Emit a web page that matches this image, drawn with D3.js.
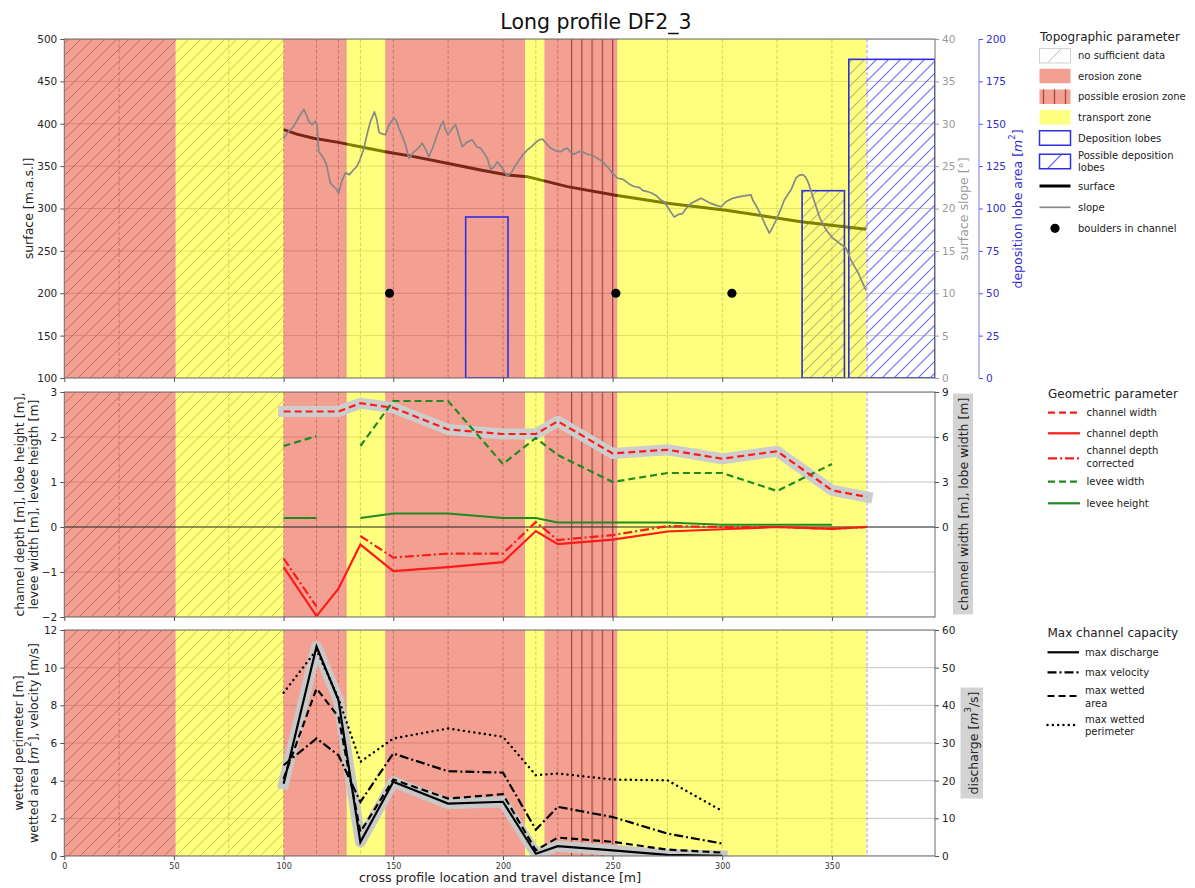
<!DOCTYPE html>
<html>
<head>
<meta charset="utf-8">
<script src="https://cdn.jsdelivr.net/npm/d3@7"></script>
<style>
  body { margin: 0; background: #fff; }
  svg { display: block; font-family: "DejaVu Sans", sans-serif; }
</style>
</head>
<body>
<svg id="chart" width="1195" height="888"></svg>
<script>
// ---------------- data ----------------
// cross-profile locations (vertical reference lines)
const profileLines = [25, 75, 100, 115, 125, 135, 150, 175, 200, 215, 225, 250, 275, 300, 325, 350, 366];

// process zones along the travel distance [m]
const zoneStart = [0, 50.8, 100, 128.8, 146.3, 210.1, 218.9, 252.2];
const zoneEnd   = [50.8, 100, 128.8, 146.3, 210.1, 218.9, 252.2, 365.5];
const zoneKind  = ["erosion", "transport", "erosion", "transport", "erosion", "transport", "erosion", "transport"];
const noDataRange = [0, 100];
const possibleErosionRange = [228, 252.2];

// deposition lobes
const lobeStart    = [183, 336.4, 357.7];
const lobeEnd      = [202.3, 355.7, 397];
const lobeArea     = [95, 110.5, 188];
const lobePossible = [false, true, true];

// boulders in channel
const boulderX = [148.3, 251.5, 304.4];
const boulderY = [200, 200, 200];

// surface elevation [m a.s.l.]
const surfaceX = [100, 106, 113.7, 125, 136.5, 146.4, 159.4, 174.6, 189.8, 202, 211, 229.4, 250.7, 275, 301.7, 335.9, 365.6];
const surfaceZ = [393, 387.7, 383, 378, 372, 367, 361.2, 353.4, 345.5, 339.6, 337.6, 325.8, 315.9, 306.1, 298, 284.4, 275.5];

// surface slope [deg]
const slopeX = [100, 102, 104.6, 107, 109.2, 110.5, 111.4, 113, 114.5, 115.3, 116, 117, 118.3, 119.5, 120.5, 121.3, 122.8, 124, 125.1, 126.5,
  128.2, 130, 132, 133.5, 135, 136.5, 138, 139.5, 141.4, 142.5, 143.5, 145, 146.4, 148, 150.2, 151.3, 152.5, 154, 155.6, 157.1,
  158.3, 159.4, 161, 163.2, 164.7, 166.2, 168, 170, 171.5, 172.8, 173.8, 175, 176.7, 178.4, 180, 181.5, 183.5, 186, 188, 189.8,
  191.5, 192.9, 194.4, 195.9, 197.4, 198.5, 200, 202, 204, 205.5, 207.3, 209, 211.1, 213, 215, 216.5, 218, 220, 221.8, 224,
  226.3, 228, 229.4, 231, 232.4, 234.5, 236.3, 238.5, 240.8, 242.5, 244.6, 246.3, 247.7, 249.5, 252.2, 255, 257.5, 259.8, 262, 264,
  265.9, 268, 270, 272, 273.5, 275, 276.5, 278.1, 280, 281.9, 283.5, 285.7, 288, 290.3, 292.5, 294.8, 297, 299.4, 301.7, 304.7,
  307.8, 310, 313.1, 313.9, 315.5, 316.9, 318, 319.2, 320.3, 321.5, 323, 324.5, 326.5, 328.3, 330, 331.4, 332.5, 333.6, 335, 336.7,
  338, 339, 340.2, 341.3, 342.8, 344.3, 345.8, 347.3, 348.8, 350.4, 352, 353.4, 355, 356.5, 357.6, 358.7, 360.2, 361.8, 363.7, 365.6];
const slopeDeg = [28.3, 29.0, 29.7, 30.8, 31.7, 31.0, 30.3, 29.9, 30.3, 29.8, 26.7, 26.4, 25.9, 25.2, 24.0, 23.0, 22.6, 22.3, 21.8, 23.2,
  24.2, 24.0, 24.6, 25.0, 25.9, 27.0, 28.7, 30.2, 31.4, 30.5, 29.0, 28.8, 28.7, 29.8, 30.7, 30.4, 29.5, 28.6, 27.5, 25.9,
  26.3, 26.7, 27.0, 27.7, 27.0, 26.1, 27.2, 28.7, 29.7, 30.3, 29.3, 28.7, 29.4, 29.9, 28.5, 27.3, 27.8, 28.1, 27.3, 27.1,
  26.5, 25.9, 24.6, 24.9, 25.5, 25.2, 24.6, 23.8, 24.3, 25.0, 25.7, 26.3, 26.9, 27.3, 27.8, 28.1, 28.2, 27.6, 27.1, 26.8,
  26.7, 27.0, 27.1, 26.6, 26.4, 26.7, 26.7, 26.4, 26.3, 26.0, 25.7, 25.3, 24.9, 24.3, 23.6, 23.4, 22.9, 22.6, 22.5, 22.1,
  22.0, 21.8, 21.5, 21.0, 20.8, 20.2, 19.6, 19.0, 19.3, 19.4, 20.0, 20.6, 20.9, 21.2, 20.9, 20.6, 20.4, 20.2, 20.8, 21.2,
  21.4, 21.5, 21.6, 21.0, 20.3, 19.6, 19.0, 18.3, 17.7, 17.1, 17.8, 18.6, 19.8, 21.0, 21.7, 22.2, 22.9, 23.6, 23.9, 24.0,
  23.7, 23.2, 22.3, 21.4, 20.2, 19.0, 18.2, 17.5, 17.0, 16.5, 16.2, 15.9, 15.6, 15.3, 14.6, 13.9, 13.2, 12.5, 11.4, 10.3];

// geometric parameters per cross profile
const geoX            = [100, 115, 125, 135, 150, 175, 200, 215, 225, 250, 275, 300, 325, 350, 366];
const channelWidth    = [7.7, 7.7, 7.7, 8.25, 7.95, 6.5, 6.2, 6.2, 7.05, 4.9, 5.15, 4.55, 5.05, 2.45, 2.0];
const channelDepth    = [-0.89, -1.98, -1.37, -0.39, -0.98, -0.89, -0.78, -0.09, -0.38, -0.28, -0.10, -0.05, 0.0, -0.04, 0.0];
const channelDepthCor = [-0.70, -1.77, null, -0.20, -0.68, -0.59, -0.59, 0.11, -0.29, -0.18, 0.02, 0.0, 0.0, -0.04, 0.0];
const leveeWidth      = [1.8, 2.02, null, 1.8, 2.8, 2.8, 1.4, 1.98, 1.6, 1.0, 1.2, 1.2, 0.8, 1.4, null];
const leveeHeight     = [0.2, 0.2, null, 0.2, 0.3, 0.3, 0.2, 0.2, 0.1, 0.1, 0.1, 0.05, 0.05, 0.05, null];

// max channel capacity per cross profile
const capX            = [100, 115, 125, 135, 150, 175, 200, 215, 225, 250, 275, 300];
const maxDischarge    = [19.2, 55.6, 41.4, 3.7, 19.7, 13.9, 14.4, 0.6, 2.6, 1.5, 0.3, 0.05];
const maxVelocity     = [4.82, 6.24, 5.35, 2.87, 5.44, 4.5, 4.43, 1.4, 2.61, 2.07, 1.19, 0.66];
const maxWettedArea   = [4.1, 8.9, 7.39, 1.28, 4.06, 3.05, 3.28, 0.3, 0.98, 0.75, 0.34, 0.18];
const maxWettedPerim  = [8.67, 10.94, 8.37, 5.0, 6.24, 6.77, 6.33, 4.29, 4.38, 4.06, 4.02, 2.39];

// ticks
const xTicks      = [0, 50, 100, 150, 200, 250, 300, 350];
const surfTicks   = [100, 150, 200, 250, 300, 350, 400, 450, 500];
const slopeTicks  = [0, 5, 10, 15, 20, 25, 30, 35, 40];
const lobeTicks   = [0, 25, 50, 75, 100, 125, 150, 175, 200];
const depthTicks  = [-2, -1, 0, 1, 2, 3];
const widthTicks  = [0, 3, 6, 9];
const capTicks    = [0, 2, 4, 6, 8, 10, 12];
const qTicks      = [0, 10, 20, 30, 40, 50, 60];

// ---------------- layout & scales ----------------
const svg = d3.select("#chart");
const X0 = 64.3, X1 = 935;
const P = { top: [39, 378], mid: [392, 617], bot: [630, 856] };

const x = d3.scaleLinear().domain([0, 397]).range([X0, X1]);
const ySurf  = d3.scaleLinear().domain([100, 500]).range([P.top[1], P.top[0]]);
const ySlope = d3.scaleLinear().domain([0, 40]).range([P.top[1], P.top[0]]);
const yLobe  = d3.scaleLinear().domain([0, 200]).range([P.top[1], P.top[0]]);
const yDepth = d3.scaleLinear().domain([-2, 3]).range([P.mid[1], P.mid[0]]);
const yWidth = d3.scaleLinear().domain([-6, 9]).range([P.mid[1], P.mid[0]]);
const yCap   = d3.scaleLinear().domain([0, 12]).range([P.bot[1], P.bot[0]]);
const yQ     = d3.scaleLinear().domain([0, 60]).range([P.bot[1], P.bot[0]]);

const EROSION = "rgb(232,72,48)", EROSION_OP = 0.52;
const TRANSPORT = "#ffff00", TRANSPORT_OP = 0.5;
const LOBE_BLUE = "#2f2fe0";
const LOBE_HATCH = "#7070ff";

// ---------------- patterns ----------------
const defs = svg.append("defs");
function diagPattern(id, color, width) {
  const p = defs.append("pattern").attr("id", id).attr("patternUnits", "userSpaceOnUse")
    .attr("width", 12).attr("height", 12);
  p.append("path").attr("d", "M-3,3 L3,-3 M0,12 L12,0 M9,15 L15,9")
    .attr("stroke", color).attr("stroke-width", width).attr("fill", "none");
}
diagPattern("hatchNoData", "#9a9a9a", 1);
diagPattern("hatchLobe", LOBE_HATCH, 1.2);
const vp = defs.append("pattern").attr("id", "hatchPossErosion").attr("patternUnits", "userSpaceOnUse")
  .attr("x", 571).attr("y", 0).attr("width", 10.25).attr("height", 10);
vp.append("path").attr("d", "M0.6,-1 L0.6,11").attr("stroke", "#4a4a4a").attr("stroke-width", 1.2);

Object.entries(P).forEach(([k, r]) => {
  defs.append("clipPath").attr("id", "clip-" + k)
    .append("rect").attr("x", X0).attr("y", r[0]).attr("width", X1 - X0).attr("height", r[1] - r[0]);
});

// ---------------- panel background (grid, zones, hatches) ----------------
function panelBackground(key, gridScale, gridTicks, under) {
  const [y0, y1] = P[key];
  const g = svg.append("g").attr("clip-path", `url(#clip-${key})`);
  g.append("rect").attr("x", X0).attr("y", y0).attr("width", X1 - X0).attr("height", y1 - y0).attr("fill", "#fff");
  // horizontal grid
  g.selectAll("line.hgrid").data(gridTicks).join("line").attr("class", "hgrid")
    .attr("x1", X0).attr("x2", X1).attr("y1", d => gridScale(d)).attr("y2", d => gridScale(d))
    .attr("stroke", "#c4c4c4").attr("stroke-width", 1);
  // cross profile lines
  g.selectAll("line.vgrid").data(profileLines).join("line").attr("class", "vgrid")
    .attr("x1", d => x(d)).attr("x2", d => x(d)).attr("y1", y0).attr("y2", y1)
    .attr("stroke", "#9a9a9a").attr("stroke-width", 0.9).attr("stroke-dasharray", "3.5,2");
  // no sufficient data hatch
  g.append("rect").attr("x", x(noDataRange[0])).attr("y", y0)
    .attr("width", x(noDataRange[1]) - x(noDataRange[0])).attr("height", y1 - y0)
    .attr("fill", "url(#hatchNoData)");
  // possible erosion zone lines
  g.append("rect").attr("x", x(possibleErosionRange[0])).attr("y", y0)
    .attr("width", x(possibleErosionRange[1]) - x(possibleErosionRange[0])).attr("height", y1 - y0)
    .attr("fill", "url(#hatchPossErosion)");
  if (under) under(g);
  // process zones
  g.selectAll("rect.zone").data(zoneStart.map((s, i) => ({ s, e: zoneEnd[i], k: zoneKind[i] })))
    .join("rect").attr("class", "zone")
    .attr("x", d => x(d.s)).attr("width", d => x(d.e) - x(d.s)).attr("y", y0).attr("height", y1 - y0)
    .attr("fill", d => d.k === "erosion" ? EROSION : TRANSPORT)
    .attr("fill-opacity", d => d.k === "erosion" ? EROSION_OP : TRANSPORT_OP);
  return g;
}

const lobes = lobeStart.map((s, i) => ({ s, e: lobeEnd[i], a: lobeArea[i], p: lobePossible[i] }));

// ---------------- top panel ----------------
const gTop = panelBackground("top", ySurf, surfTicks, g => {
  g.selectAll("rect.lobeHatch").data(lobes.filter(d => d.p)).join("rect").attr("class", "lobeHatch")
    .attr("x", d => x(d.s)).attr("width", d => x(d.e) - x(d.s))
    .attr("y", d => yLobe(d.a)).attr("height", d => yLobe(0) - yLobe(d.a))
    .attr("fill", "url(#hatchLobe)");
  g.append("path").datum(surfaceX.map((v, i) => [v, surfaceZ[i]]))
    .attr("d", d3.line().x(d => x(d[0])).y(d => ySurf(d[1])))
    .attr("fill", "none").attr("stroke", "#000").attr("stroke-width", 3);
});
gTop.selectAll("rect.lobe").data(lobes).join("rect").attr("class", "lobe")
  .attr("x", d => x(d.s)).attr("width", d => x(d.e) - x(d.s))
  .attr("y", d => yLobe(d.a)).attr("height", d => yLobe(0) - yLobe(d.a))
  .attr("fill", "none").attr("stroke", LOBE_BLUE).attr("stroke-width", 1.6);
gTop.append("path").datum(slopeX.map((v, i) => [v, slopeDeg[i]]))
  .attr("d", d3.line().x(d => x(d[0])).y(d => ySlope(d[1])))
  .attr("fill", "none").attr("stroke", "#878787").attr("stroke-width", 1.7).attr("stroke-linejoin", "round");
gTop.selectAll("circle.boulder").data(boulderX.map((v, i) => [v, boulderY[i]])).join("circle")
  .attr("class", "boulder").attr("cx", d => x(d[0])).attr("cy", d => ySurf(d[1])).attr("r", 4.6).attr("fill", "#000");

// ---------------- middle panel ----------------
const gMid = panelBackground("mid", yDepth, depthTicks);
gMid.append("line").attr("x1", X0).attr("x2", X1).attr("y1", yDepth(0)).attr("y2", yDepth(0))
  .attr("stroke", "#333").attr("stroke-width", 1);
function series(g, xs, ys, yScale, style) {
  const line = d3.line().defined(d => d[1] != null).x(d => x(d[0])).y(d => yScale(d[1]));
  const p = g.append("path").datum(xs.map((v, i) => [v, ys[i]])).attr("d", line).attr("fill", "none");
  Object.entries(style).forEach(([k, v]) => p.attr(k, v));
  return p;
}
series(gMid, geoX, channelWidth, yWidth, { stroke: "#cdcdcd", "stroke-width": 11, "stroke-linecap": "square", "stroke-linejoin": "round" });
series(gMid, geoX, leveeWidth, yDepth, { stroke: "#1f8a1f", "stroke-width": 2.2, "stroke-dasharray": "7,4" });
series(gMid, geoX, leveeHeight, yDepth, { stroke: "#1f8a1f", "stroke-width": 2.2 });
series(gMid, geoX, channelDepth, yDepth, { stroke: "#ff1a1a", "stroke-width": 2.2 });
series(gMid, geoX, channelDepthCor, yDepth, { stroke: "#ff1a1a", "stroke-width": 2.2, "stroke-dasharray": "9,3,2,3" });
series(gMid, geoX, channelWidth, yWidth, { stroke: "#ff1a1a", "stroke-width": 2.2, "stroke-dasharray": "7,4" });

// ---------------- bottom panel ----------------
const gBot = panelBackground("bot", yCap, capTicks);
series(gBot, capX, maxDischarge, yQ, { stroke: "#c8c8c8", "stroke-width": 11, "stroke-linecap": "square", "stroke-linejoin": "round" });
series(gBot, capX, maxWettedPerim, yCap, { stroke: "#000", "stroke-width": 2.4, "stroke-dasharray": "0.1,5.2", "stroke-linecap": "round" });
series(gBot, capX, maxVelocity, yCap, { stroke: "#000", "stroke-width": 2.2, "stroke-dasharray": "9,3,2,3" });
series(gBot, capX, maxWettedArea, yCap, { stroke: "#000", "stroke-width": 2.2, "stroke-dasharray": "7,4" });
series(gBot, capX, maxDischarge, yQ, { stroke: "#000", "stroke-width": 2.2 });

// ---------------- frames & axes ----------------
Object.values(P).forEach(r => {
  svg.append("rect").attr("x", X0).attr("y", r[0]).attr("width", X1 - X0).attr("height", r[1] - r[0])
    .attr("fill", "none").attr("stroke", "#6a6a6a").attr("stroke-width", 1);
});

function styleAxis(g, textColor, tickColor, size) {
  g.attr("font-family", "DejaVu Sans").attr("font-size", size || 10.5);
  g.select(".domain").remove();
  g.selectAll(".tick text").attr("fill", textColor);
  g.selectAll(".tick line").attr("stroke", tickColor);
  return g;
}
const fmt = d3.format("d");
// x axes
[["top", false], ["mid", false], ["bot", true]].forEach(([k, labels]) => {
  const ax = d3.axisBottom(x).tickValues(xTicks).tickSize(4).tickPadding(3).tickFormat(labels ? fmt : () => "");
  styleAxis(svg.append("g").attr("transform", `translate(0,${P[k][1]})`).call(ax), "#333", "#555", 8);
});
// left axes
styleAxis(svg.append("g").attr("transform", `translate(${X0},0)`)
  .call(d3.axisLeft(ySurf).tickValues(surfTicks).tickSize(4).tickPadding(3).tickFormat(fmt)), "#262626", "#555");
styleAxis(svg.append("g").attr("transform", `translate(${X0},0)`)
  .call(d3.axisLeft(yDepth).tickValues(depthTicks).tickSize(4).tickPadding(3).tickFormat(fmt)), "#262626", "#555");
styleAxis(svg.append("g").attr("transform", `translate(${X0},0)`)
  .call(d3.axisLeft(yCap).tickValues(capTicks).tickSize(4).tickPadding(3).tickFormat(fmt)), "#262626", "#555");
// right axes
styleAxis(svg.append("g").attr("transform", `translate(${X1},0)`)
  .call(d3.axisRight(ySlope).tickValues(slopeTicks).tickSize(4).tickPadding(3).tickFormat(fmt)), "#9a9a9a", "#9a9a9a");
const XL = 979;
svg.append("line").attr("x1", XL).attr("x2", XL).attr("y1", P.top[0]).attr("y2", P.top[1])
  .attr("stroke", "#9090ea").attr("stroke-width", 1.2);
styleAxis(svg.append("g").attr("transform", `translate(${XL},0)`)
  .call(d3.axisRight(yLobe).tickValues(lobeTicks).tickSize(4).tickPadding(3).tickFormat(fmt)), "#3232c8", "#5a5ad8");
styleAxis(svg.append("g").attr("transform", `translate(${X1},0)`)
  .call(d3.axisRight(yWidth).tickValues(widthTicks).tickSize(4).tickPadding(3).tickFormat(fmt)), "#262626", "#555");
styleAxis(svg.append("g").attr("transform", `translate(${X1},0)`)
  .call(d3.axisRight(yQ).tickValues(qTicks).tickSize(4).tickPadding(3).tickFormat(fmt)), "#262626", "#555");

// ---------------- titles & axis labels ----------------
svg.append("text").attr("x", 596).attr("y", 29).attr("text-anchor", "middle")
  .attr("font-size", 20.5).attr("fill", "#111").text("Long profile DF2_3");
svg.append("text").attr("x", 500).attr("y", 882).attr("text-anchor", "middle")
  .attr("font-size", 12.6).attr("fill", "#222").text("cross profile location and travel distance [m]");

// rotated label; parts = array of [text, style] pieces
function vLabel(cx, cy, parts, color, box) {
  const g = svg.append("g").attr("transform", `translate(${cx},${cy}) rotate(-90)`);
  const t = g.append("text").attr("text-anchor", "middle").attr("dominant-baseline", "central")
    .attr("font-size", 12.5).attr("fill", color);
  parts.forEach(p => {
    const s = t.append("tspan").text(p[0]);
    if (p[1] === "i") s.attr("font-style", "italic");
    if (p[1] === "sup") s.attr("font-size", 8.5).attr("baseline-shift", "super");
  });
  if (box) {
    const b = t.node().getBBox();
    g.insert("rect", "text").attr("x", b.x - 4).attr("y", b.y - 2.5)
      .attr("width", b.width + 8).attr("height", b.height + 5).attr("fill", "#d3d3d3");
  }
}
vLabel(27.5, 208.5, [["surface [m.a.s.l]"]], "#222");
vLabel(19, 504.5, [["channel depth [m], lobe height [m],"]], "#222");
vLabel(33, 504.5, [["levee width [m], levee heigth [m]"]], "#222");
vLabel(17.5, 743, [["wetted perimeter [m]"]], "#222");
vLabel(33, 743, [["wetted area ["], ["m", "i"], ["2", "sup"], ["], velocity [m/s]"]], "#222");
vLabel(963, 209, [["surface slope [°]"]], "#9a9a9a");
vLabel(1017, 209, [["deposition lobe area ["], ["m", "i"], ["2", "sup"], ["]"]], "#2a2ad0");
vLabel(963, 504, [["channel width [m], lobe width [m]"]], "#222", true);
vLabel(973, 743, [["discharge ["], ["m", "i"], ["3", "sup"], ["/s]"]], "#222", true);

// ---------------- legends ----------------
function legendTitle(xp, yp, txt) {
  svg.append("text").attr("x", xp).attr("y", yp).attr("dominant-baseline", "central")
    .attr("font-size", 12).attr("fill", "#222").text(txt);
}
function legendText(xp, yp, lines) {
  const t = svg.append("text").attr("font-size", 10).attr("fill", "#222");
  const lh = 12.5;
  lines.forEach((l, i) => {
    t.append("tspan").attr("x", xp).attr("y", yp + (i - (lines.length - 1) / 2) * lh)
      .attr("dominant-baseline", "central").text(l);
  });
}

// topographic parameter legend
const LX = 1039.5, LW = 31, LH = 14.5, LT = 1078;
legendTitle(1040, 36.5, "Topographic parameter");
const topLegend = [
  { y: 55.7, lines: ["no sufficient data"], draw: (g, y) => {
      g.append("rect").attr("x", LX).attr("y", y - LH / 2).attr("width", LW).attr("height", LH).attr("fill", "#fff");
      g.append("line").attr("x1", LX + 8).attr("y1", y + LH / 2).attr("x2", LX + 22).attr("y2", y - LH / 2)
        .attr("stroke", "#b5b5b5").attr("stroke-width", 0.9);
      g.append("rect").attr("x", LX).attr("y", y - LH / 2).attr("width", LW).attr("height", LH).attr("fill", "none").attr("stroke", "#cfcfcf");
    } },
  { y: 76, lines: ["erosion zone"], draw: (g, y) => {
      g.append("rect").attr("x", LX).attr("y", y - LH / 2).attr("width", LW).attr("height", LH).attr("fill", EROSION).attr("fill-opacity", EROSION_OP);
    } },
  { y: 96.7, lines: ["possible erosion zone"], draw: (g, y) => {
      g.append("rect").attr("x", LX).attr("y", y - LH / 2).attr("width", LW).attr("height", LH).attr("fill", EROSION).attr("fill-opacity", EROSION_OP);
      [4, 15, 26].forEach(o => g.append("line").attr("x1", LX + o).attr("x2", LX + o).attr("y1", y - LH / 2).attr("y2", y + LH / 2)
        .attr("stroke", "#a04a3c").attr("stroke-width", 1.3));
    } },
  { y: 117.3, lines: ["transport zone"], draw: (g, y) => {
      g.append("rect").attr("x", LX).attr("y", y - LH / 2).attr("width", LW).attr("height", LH).attr("fill", TRANSPORT).attr("fill-opacity", TRANSPORT_OP);
    } },
  { y: 138, lines: ["Deposition lobes"], draw: (g, y) => {
      g.append("rect").attr("x", LX).attr("y", y - LH / 2).attr("width", LW).attr("height", LH).attr("fill", "#fff")
        .attr("stroke", LOBE_BLUE).attr("stroke-width", 1.5);
    } },
  { y: 161.5, lines: ["Possible deposition", "lobes"], draw: (g, y) => {
      g.append("rect").attr("x", LX).attr("y", y - LH / 2).attr("width", LW).attr("height", LH).attr("fill", "#fff");
      g.append("line").attr("x1", LX + 8).attr("y1", y + LH / 2).attr("x2", LX + 22).attr("y2", y - LH / 2)
        .attr("stroke", LOBE_HATCH).attr("stroke-width", 1.2);
      g.append("rect").attr("x", LX).attr("y", y - LH / 2).attr("width", LW).attr("height", LH).attr("fill", "none")
        .attr("stroke", LOBE_BLUE).attr("stroke-width", 1.5);
    } },
  { y: 186, lines: ["surface"], draw: (g, y) => {
      g.append("line").attr("x1", LX).attr("x2", LX + LW).attr("y1", y).attr("y2", y).attr("stroke", "#000").attr("stroke-width", 3);
    } },
  { y: 207.3, lines: ["slope"], draw: (g, y) => {
      g.append("line").attr("x1", LX).attr("x2", LX + LW).attr("y1", y).attr("y2", y).attr("stroke", "#878787").attr("stroke-width", 1.7);
    } },
  { y: 228.3, lines: ["boulders in channel"], draw: (g, y) => {
      g.append("circle").attr("cx", LX + LW / 2).attr("cy", y).attr("r", 4.6).attr("fill", "#000");
    } }
];
const gl1 = svg.append("g");
topLegend.forEach(e => { e.draw(gl1, e.y); legendText(LT, e.y, e.lines); });

// line-style legends
function lineLegend(x0, x1, tx, entries) {
  const g = svg.append("g");
  entries.forEach(e => {
    const l = g.append("line").attr("x1", x0).attr("x2", x1).attr("y1", e.y).attr("y2", e.y).attr("fill", "none");
    Object.entries(e.style).forEach(([k, v]) => l.attr(k, v));
    legendText(tx, e.ty != null ? e.ty : e.y, e.lines);
  });
}
legendTitle(1048, 394, "Geometric parameter");
lineLegend(1048, 1080, 1086.5, [
  { y: 412.7, lines: ["channel width"], style: { stroke: "#ff1a1a", "stroke-width": 2.2, "stroke-dasharray": "7,4" } },
  { y: 433.3, lines: ["channel depth"], style: { stroke: "#ff1a1a", "stroke-width": 2.2 } },
  { y: 458.3, ty: 457.2, lines: ["channel depth", "corrected"], style: { stroke: "#ff1a1a", "stroke-width": 2.2, "stroke-dasharray": "9,3,2,3" } },
  { y: 481.7, lines: ["levee width"], style: { stroke: "#1f8a1f", "stroke-width": 2.2, "stroke-dasharray": "7,4" } },
  { y: 503.3, lines: ["levee height"], style: { stroke: "#1f8a1f", "stroke-width": 2.2 } }
]);

legendTitle(1047.5, 633.3, "Max channel capacity");
lineLegend(1047.5, 1079, 1085, [
  { y: 652.3, lines: ["max discharge"], style: { stroke: "#000", "stroke-width": 2.2 } },
  { y: 672.3, lines: ["max velocity"], style: { stroke: "#000", "stroke-width": 2.2, "stroke-dasharray": "9,3,2,3" } },
  { y: 696, ty: 697, lines: ["max wetted", "area"], style: { stroke: "#000", "stroke-width": 2.2, "stroke-dasharray": "7,4" } },
  { y: 725, ty: 725.3, lines: ["max wetted", "perimeter"], style: { stroke: "#000", "stroke-width": 2.4, "stroke-dasharray": "0.1,5.2", "stroke-linecap": "round" } }
]);
</script>
</body>
</html>
